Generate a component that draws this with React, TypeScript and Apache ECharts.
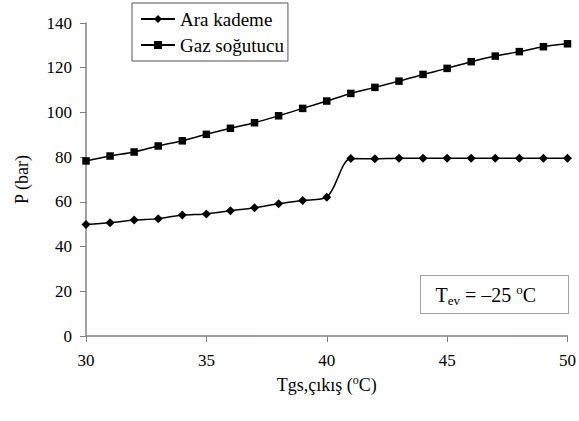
import React, { useEffect, useRef } from "react";
import * as echarts from "echarts";

const temps = [30, 31, 32, 33, 34, 35, 36, 37, 38, 39, 40, 41, 42, 43, 44, 45, 46, 47, 48, 49, 50];
const araKademe = [49.9, 50.7, 51.9, 52.5, 54.1, 54.6, 56.0, 57.4, 59.2, 60.6, 62.1, 79.4, 79.3, 79.5, 79.5, 79.5, 79.5, 79.5, 79.5, 79.5, 79.5];
const gazSogutucu = [78.3, 80.5, 82.3, 85.0, 87.3, 90.2, 92.9, 95.4, 98.5, 101.8, 105.1, 108.5, 111.2, 114.0, 117.0, 119.7, 122.7, 125.2, 127.2, 129.4, 130.7];
const seriesNames = ["Ara kademe", "Gaz soğutucu"];

const FONT = "Liberation Serif";

export default function App() {
  const ref = useRef<HTMLDivElement>(null);
  useEffect(() => {
    if (!ref.current) return;
    const chart = echarts.init(ref.current, null, { renderer: "svg" });
    chart.setOption({
      animation: false,
      backgroundColor: "#ffffff",
      textStyle: { fontFamily: FONT },
      grid: { left: 86, right: 9, top: 23, bottom: 85 },
      legend: {
        left: 132,
        top: 3,
        orient: "vertical",
        data: seriesNames,
        borderColor: "#555",
        borderWidth: 1,
        padding: [6, 4, 6, 8],
        itemGap: 6,
        itemWidth: 34,
        itemHeight: 10,
        textStyle: { fontFamily: FONT, fontSize: 19, color: "#000", lineHeight: 20 },
      },
      xAxis: {
        type: "value",
        min: 30,
        max: 50,
        interval: 5,
        name: "{a|Tgs,çıkış (}{s|o}{a|C)}",
        nameLocation: "middle",
        nameGap: 35,
        nameTextStyle: {
          rich: {
            a: { fontFamily: FONT, fontSize: 18, color: "#000", lineHeight: 22, verticalAlign: "middle" },
            s: { fontFamily: FONT, fontSize: 12, color: "#000", verticalAlign: "top", lineHeight: 12 },
          },
        },
        axisLine: { lineStyle: { color: "#808080", width: 1.5 } },
        axisTick: { show: true, length: 6, lineStyle: { color: "#808080" } },
        axisLabel: { fontFamily: FONT, fontSize: 17, color: "#000", margin: 16 },
        splitLine: { show: false },
      },
      yAxis: {
        type: "value",
        min: 0,
        max: 140,
        interval: 20,
        name: "P (bar)",
        nameLocation: "middle",
        nameGap: 55,
        nameTextStyle: { fontFamily: FONT, fontSize: 18, color: "#000" },
        axisLine: { show: true, lineStyle: { color: "#808080", width: 1.5 } },
        axisTick: { show: true, length: 6, lineStyle: { color: "#808080" } },
        axisLabel: { fontFamily: FONT, fontSize: 17, color: "#000", margin: 14 },
        splitLine: { show: false },
      },
      series: [
        {
          name: seriesNames[0],
          type: "line",
          data: temps.map((t, i) => [t, araKademe[i]]),
          smooth: 0.3,
          symbol: "diamond",
          symbolSize: 9,
          itemStyle: { color: "#000" },
          lineStyle: { color: "#000", width: 1.5 },
        },
        {
          name: seriesNames[1],
          type: "line",
          data: temps.map((t, i) => [t, gazSogutucu[i]]),
          smooth: 0.3,
          symbol: "rect",
          symbolSize: 7.5,
          itemStyle: { color: "#000" },
          lineStyle: { color: "#000", width: 1.5 },
        },
      ],
      graphic: [
        {
          type: "group",
          left: 420,
          top: 275,
          children: [
            {
              type: "rect",
              shape: { x: 0, y: 0, width: 148, height: 38 },
              style: { fill: "#fff", stroke: "#444", lineWidth: 1, lineDash: [1, 1] },
            },
            {
              type: "text",
              x: 15,
              y: 19,
              style: {
                text: "{a|T}{b|ev}{a| = –25 }{s|o}{a|C}",
                verticalAlign: "middle",
                rich: {
                  a: { fontFamily: FONT, fontSize: 20, fill: "#000", lineHeight: 24, verticalAlign: "middle" },
                  b: { fontFamily: FONT, fontSize: 13, fill: "#000", lineHeight: 13, verticalAlign: "bottom" },
                  s: { fontFamily: FONT, fontSize: 13, fill: "#000", lineHeight: 13, verticalAlign: "top" },
                },
              },
            },
          ],
        },
      ],
    });
    return () => chart.dispose();
  }, []);
  return <div ref={ref} style={{ position: "fixed", left: 0, top: 0, width: 579, height: 421 }} />;
}
